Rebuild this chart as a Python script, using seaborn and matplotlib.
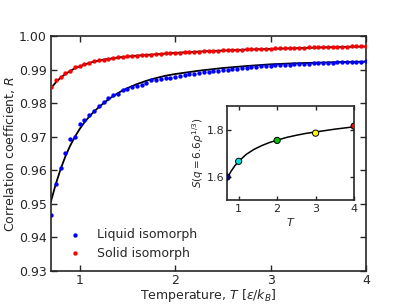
import numpy as np
import pandas as pd
import matplotlib
matplotlib.use("Agg")
import matplotlib.pyplot as plt
from matplotlib.ticker import FormatStrFormatter, MultipleLocator
import seaborn as sns

# ---------------- data ----------------
T_pts = [0.70, 0.75, 0.80, 0.85, 0.90, 0.95, 1.00, 1.05, 1.10, 1.15, 1.20, 1.25,
         1.30, 1.35, 1.40, 1.45, 1.50, 1.55, 1.60, 1.65, 1.70, 1.75, 1.80, 1.85,
         1.90, 1.95, 2.00, 2.05, 2.10, 2.15, 2.20, 2.25, 2.30, 2.35, 2.40, 2.45,
         2.50, 2.55, 2.60, 2.65, 2.70, 2.75, 2.80, 2.85, 2.90, 2.95, 3.00, 3.05,
         3.10, 3.15, 3.20, 3.25, 3.30, 3.35, 3.40, 3.45, 3.50, 3.55, 3.60, 3.65,
         3.70, 3.75, 3.80, 3.85, 3.90, 3.95, 4.00]

R_liquid = [0.9467, 0.9558, 0.9606, 0.9652, 0.9692, 0.9698, 0.9737, 0.9750, 0.9766,
            0.9776, 0.9792, 0.9804, 0.9815, 0.9826, 0.9829, 0.9840, 0.9842, 0.9849,
            0.9851, 0.9853, 0.9861, 0.9868, 0.9869, 0.9871, 0.9874, 0.9876, 0.9879,
            0.9881, 0.9884, 0.9886, 0.9888, 0.9890, 0.9892, 0.9894, 0.9895, 0.9897,
            0.9899, 0.9900, 0.9902, 0.9903, 0.9905, 0.9906, 0.9907, 0.9909, 0.9910,
            0.9911, 0.9912, 0.9913, 0.9914, 0.9914, 0.9915, 0.9916, 0.9917, 0.9918,
            0.9918, 0.9919, 0.9920, 0.9920, 0.9921, 0.9921, 0.9922, 0.9922, 0.9923,
            0.9923, 0.9924, 0.9924, 0.9925]

R_solid = [0.9848, 0.9868, 0.9878, 0.9889, 0.9897, 0.9908, 0.9911, 0.9916, 0.9921,
           0.9925, 0.9928, 0.9930, 0.9933, 0.9935, 0.9937, 0.9938, 0.9940, 0.9941,
           0.9942, 0.9943, 0.9944, 0.9945, 0.9947, 0.9948, 0.9949, 0.9950, 0.9951,
           0.9951, 0.9952, 0.9953, 0.9954, 0.9954, 0.9955, 0.9956, 0.9956, 0.9957,
           0.9958, 0.9958, 0.9959, 0.9959, 0.9960, 0.9961, 0.9961, 0.9962, 0.9962,
           0.9963, 0.9963, 0.9964, 0.9964, 0.9965, 0.9965, 0.9965, 0.9966, 0.9966,
           0.9967, 0.9967, 0.9967, 0.9968, 0.9968, 0.9968, 0.9969, 0.9969, 0.9969,
           0.9970, 0.9970, 0.9970, 0.9971]

T_fit = [0.70, 0.75, 0.80, 0.85, 0.90, 0.95, 1.00, 1.05, 1.10, 1.15, 1.20, 1.25,
         1.30, 1.35, 1.40, 1.45, 1.50, 1.60, 1.70, 1.80, 1.90, 2.00, 2.25, 2.50,
         2.75, 3.00, 3.25, 3.50, 3.75, 4.00]
R_liquid_fit = [0.9508, 0.9559, 0.9603, 0.9641, 0.9673, 0.9700, 0.9723, 0.9743,
                0.9760, 0.9775, 0.9788, 0.9800, 0.9811, 0.9821, 0.9830, 0.9838,
                0.9845, 0.9857, 0.9867, 0.9875, 0.9882, 0.9887, 0.9897, 0.9905,
                0.9911, 0.9916, 0.9919, 0.9921, 0.9923, 0.9924]
R_solid_fit = [0.9845, 0.9862, 0.9876, 0.9887, 0.9896, 0.9904, 0.9910, 0.9915,
               0.9920, 0.9924, 0.9927, 0.9930, 0.9932, 0.9934, 0.9936, 0.9938,
               0.9939, 0.9942, 0.9944, 0.9946, 0.9948, 0.9950, 0.9954, 0.9957,
               0.9960, 0.9962, 0.9964, 0.9966, 0.9968, 0.9969]

# inset data
T_inset = [0.7, 1.0, 2.0, 3.0, 4.0]
S_inset = [1.598, 1.665, 1.754, 1.785, 1.815]
inset_colors = ["#00008b", "#00e0e0", "#00c000", "#ffff00", "#ff0000"]
T_inset_fit = [0.7, 0.8, 0.9, 1.0, 1.2, 1.4, 1.6, 1.8, 2.0, 2.25, 2.5, 2.75, 3.0, 3.5, 4.0]
S_inset_fit = [1.592, 1.622, 1.646, 1.665, 1.695, 1.716, 1.732, 1.745, 1.755,
               1.767, 1.776, 1.784, 1.790, 1.802, 1.812]

xticks_main = [1, 2, 3, 4]
yticks_main = [0.93, 0.94, 0.95, 0.96, 0.97, 0.98, 0.99, 1.00]

# ---------------- style ----------------
sns.set_style("ticks")
plt.rcParams["font.family"] = ["DejaVu Sans"]
plt.rcParams["mathtext.fontset"] = "dejavusans"
plt.rcParams["xtick.direction"] = "in"
plt.rcParams["ytick.direction"] = "in"

fig = plt.figure(figsize=(4.07, 3.05), dpi=100)
ax = fig.add_axes([0.1253, 0.1115, 0.774, 0.770])

df_l = pd.DataFrame({"T": T_pts, "R": R_liquid})
df_s = pd.DataFrame({"T": T_pts, "R": R_solid})
df_lf = pd.DataFrame({"T": T_fit, "R": R_liquid_fit})
df_sf = pd.DataFrame({"T": T_fit, "R": R_solid_fit})

sns.lineplot(data=df_lf, x="T", y="R", color="black", lw=1.3, ax=ax,
             estimator=None, sort=False, zorder=2)
sns.lineplot(data=df_sf, x="T", y="R", color="black", lw=1.3, ax=ax,
             estimator=None, sort=False, zorder=2)
sns.scatterplot(data=df_l, x="T", y="R", color="#0000ff", s=10, linewidth=0,
                ax=ax, label="Liquid isomorph", zorder=3)
sns.scatterplot(data=df_s, x="T", y="R", color="#ff0000", s=10, linewidth=0,
                ax=ax, label="Solid isomorph", zorder=3)

ax.set_xlim(0.7, 4.0)
ax.set_ylim(0.93, 1.00)
ax.set_xticks(xticks_main)
ax.set_yticks(yticks_main)
ax.yaxis.set_major_formatter(FormatStrFormatter("%.2f"))
ax.tick_params(which="both", top=True, right=True, direction="in", length=4,
               width=1, labelsize=9, pad=3)
ax.tick_params(axis="x", pad=2)
for sp in ax.spines.values():
    sp.set_linewidth(1.2)
ax.set_xlabel(r"Temperature, $T$ [$\varepsilon/k_B$]", fontsize=9, labelpad=0)
ax.set_ylabel(r"Correlation coefficient, $R$", fontsize=9, labelpad=1.5)
leg = ax.legend(loc="lower left", bbox_to_anchor=(0.0, 0.0), frameon=False,
                fontsize=9, markerscale=1.0, handletextpad=0.8,
                labelspacing=0.45, borderaxespad=0.5)

# ---------------- inset ----------------
axin = fig.add_axes([0.558, 0.344, 0.312, 0.308])
df_if = pd.DataFrame({"T": T_inset_fit, "S": S_inset_fit})
df_i = pd.DataFrame({"T": [str(t) for t in T_inset], "Tv": T_inset, "S": S_inset})
sns.lineplot(data=df_if, x="T", y="S", color="black", lw=1.1, ax=axin,
             estimator=None, sort=False, zorder=2)
sns.scatterplot(data=df_i, x="Tv", y="S", hue="T", palette=inset_colors, s=20,
                edgecolor="black", linewidth=0.7, ax=axin, legend=False, zorder=3)
axin.set_xlim(0.7, 4.0)
axin.set_ylim(1.5, 1.9)
axin.set_xticks([1, 2, 3, 4])
axin.set_yticks([1.6, 1.8])
axin.yaxis.set_major_formatter(FormatStrFormatter("%.1f"))
axin.tick_params(which="both", top=True, right=True, direction="in", length=3,
                 width=1, labelsize=8, pad=3)
axin.tick_params(axis="y", pad=2)
for sp in axin.spines.values():
    sp.set_linewidth(1.2)
axin.set_xlabel(r"$T$", fontsize=8, labelpad=1)
axin.set_ylabel(r"$S(q=6.6\rho^{1/3})$", fontsize=7.5, labelpad=0.5)

fig.savefig("out.png", dpi=100)
